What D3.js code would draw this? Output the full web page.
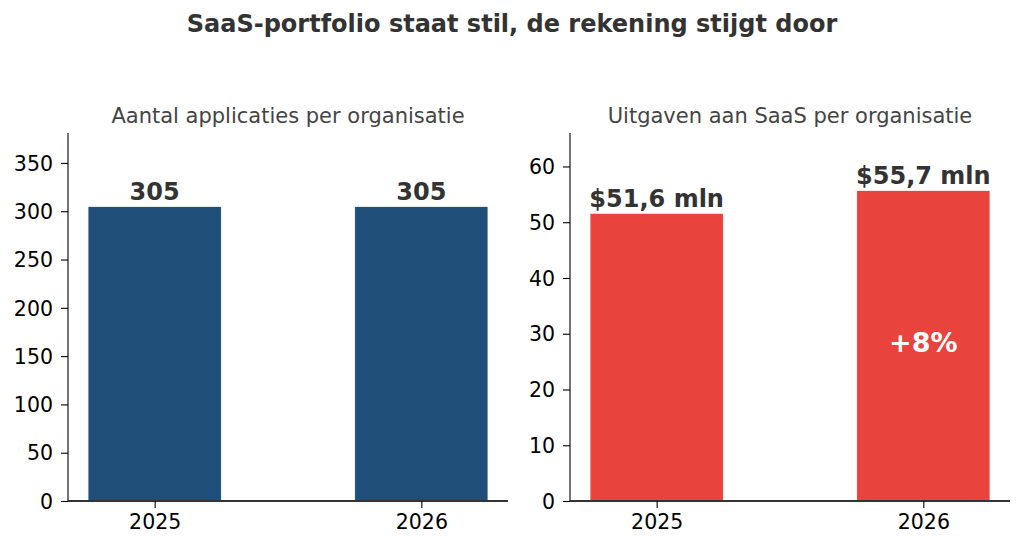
<!DOCTYPE html>
<html><head><meta charset="utf-8">
<script src="https://cdn.jsdelivr.net/npm/d3@7"></script>
<style>body{margin:0;background:#fff}svg{display:block;font-family:"DejaVu Sans",sans-serif}</style>
</head><body>
<svg id="c" width="1024" height="549"></svg>
<script>
const years = ["2025","2026"];
const appCounts = [305, 305];
const spend = [51.6, 55.7];
const appLabels = ["305","305"];
const spendLabels = ["$51,6 mln","$55,7 mln"];
const appTicks = [0,50,100,150,200,250,300,350];
const spendTicks = [0,10,20,30,40,50,60];
const changeLabel = "+8%";
const titleText = "SaaS-portfolio staat stil, de rekening stijgt door";
const sub1 = "Aantal applicaties per organisatie";
const sub2 = "Uitgaven aan SaaS per organisatie";

const svg = d3.select("#c");
svg.append("text").attr("x",512).attr("y",32).attr("text-anchor","middle")
  .attr("font-size",24).attr("font-weight","bold").attr("fill","#333").text(titleText);

function panel(x0, x1, vals, ymax, ticks, color, labels, sub, extra){
  const top=133, bottom=501;
  const x = d3.scaleLinear().domain([-0.325,1.325]).range([x0,x1]);
  const y = d3.scaleLinear().domain([0,ymax]).range([bottom,top]);
  const g = svg.append("g");
  g.append("text").attr("x",(x0+x1)/2).attr("y",123).attr("text-anchor","middle")
    .attr("font-size",21).attr("fill","#444").text(sub);
  g.selectAll("rect.bar").data(vals).enter().append("rect").attr("class","bar")
    .attr("x",(d,i)=>x(i-0.25)).attr("width",(d,i)=>x(i+0.25)-x(i-0.25))
    .attr("y",d=>y(d)).attr("height",d=>y(0)-y(d))
    .attr("fill",color).attr("stroke","#fff").attr("stroke-width",0.8);
  g.selectAll("text.val").data(vals).enter().append("text").attr("class","val")
    .attr("x",(d,i)=>x(i)).attr("y",d=>y(d)-6).attr("text-anchor","middle")
    .attr("font-size",24).attr("font-weight","bold").attr("fill","#333")
    .text((d,i)=>labels[i]);
  const ya = d3.axisLeft(y).tickValues(ticks).tickSize(7).tickPadding(8).tickFormat(d3.format("d"));
  const yg = g.append("g").attr("transform",`translate(${x0},0)`).call(ya);
  yg.select(".domain").attr("d",`M0,${top}V${bottom}`).attr("stroke","#000").attr("stroke-width",1.1);
  yg.selectAll("text").attr("font-size",20.5).attr("fill","#000").attr("font-family","DejaVu Sans").attr("dy","0.35em");
  yg.selectAll(".tick line").attr("stroke","#000").attr("stroke-width",1.1);
  const xa = d3.axisBottom(x).tickValues([0,1]).tickFormat(i=>years[i]).tickSize(7).tickPadding(6);
  const xg = g.append("g").attr("transform",`translate(0,${bottom})`).call(xa);
  xg.select(".domain").attr("d",`M${x0},0H${x1}`).attr("stroke","#333").attr("stroke-width",1.8);
  xg.selectAll("text").attr("font-size",20.5).attr("fill","#000").attr("font-family","DejaVu Sans").attr("dy","0.75em");
  xg.selectAll(".tick line").attr("stroke","#000").attr("stroke-width",1.1);
  if(extra) extra(g,x,y);
}
panel(68,508,appCounts,381,appTicks,"#1f4e79",appLabels,sub1);
panel(570,1010,spend,66,spendTicks,"#e8433c",spendLabels,sub2,(g,x,y)=>{
  g.append("text").attr("x",x(1)).attr("y",y(spend[1]/2)+6).attr("text-anchor","middle")
   .attr("font-size",27).attr("font-weight","bold").attr("fill","#fff").text(changeLabel);
});
</script>
</body></html>
